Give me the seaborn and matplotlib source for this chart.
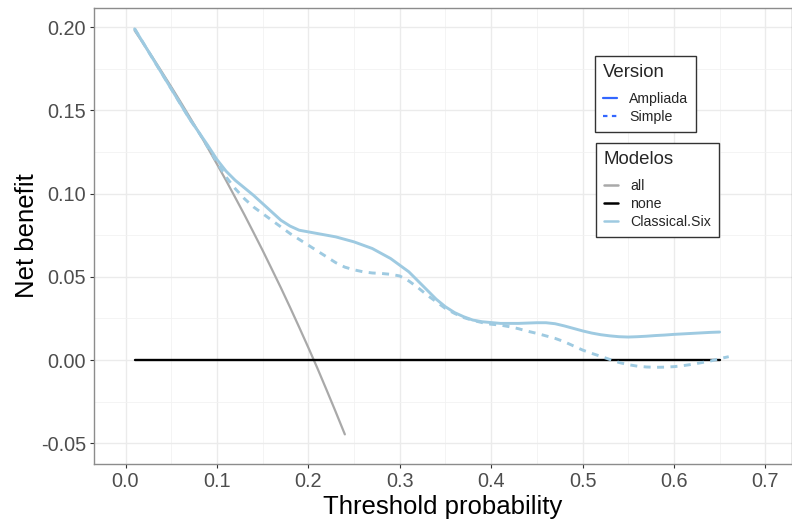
import pandas as pd
import matplotlib
matplotlib.use("Agg")
import matplotlib.pyplot as plt
from matplotlib.lines import Line2D
from matplotlib.ticker import MultipleLocator, FixedLocator
import seaborn as sns

# Decision curve data: net benefit by threshold probability
thr_all = [0.01, 0.02, 0.03, 0.04, 0.05, 0.06, 0.07, 0.08, 0.09, 0.10, 0.11, 0.12,
           0.13, 0.14, 0.15, 0.16, 0.17, 0.18, 0.19, 0.20, 0.21, 0.22, 0.23, 0.24]
nb_all = [0.198, 0.1898, 0.1815, 0.1729, 0.1642, 0.1553, 0.1462, 0.1370, 0.1275, 0.1178, 0.1079, 0.0977,
          0.0874, 0.0767, 0.0659, 0.0547, 0.0434, 0.0317, 0.0197, 0.0075, -0.0050, -0.0180, -0.0312, -0.0447]

thr_none = [0.01, 0.65]
nb_none = [0.0, 0.0]

thr_amp = [0.01, 0.02, 0.03, 0.04, 0.05, 0.06, 0.07, 0.08, 0.09, 0.10, 0.11, 0.12,
           0.13, 0.14, 0.15, 0.16, 0.17, 0.18, 0.19, 0.20, 0.21, 0.22, 0.23, 0.24,
           0.25, 0.26, 0.27, 0.28, 0.29, 0.30, 0.31, 0.32, 0.33, 0.34, 0.35, 0.36,
           0.37, 0.38, 0.39, 0.40, 0.41, 0.42, 0.43, 0.44, 0.45, 0.46, 0.47, 0.48,
           0.49, 0.50, 0.51, 0.52, 0.53, 0.54, 0.55, 0.56, 0.57, 0.58, 0.59, 0.60,
           0.61, 0.62, 0.63, 0.64, 0.65]
nb_amp = [0.199, 0.190, 0.181, 0.172, 0.163, 0.154, 0.145, 0.137, 0.129, 0.1205, 0.1135, 0.108,
          0.1035, 0.099, 0.094, 0.089, 0.084, 0.0805, 0.078, 0.077, 0.076, 0.075, 0.074, 0.0725,
          0.071, 0.069, 0.067, 0.064, 0.061, 0.057, 0.053, 0.0475, 0.042, 0.0365, 0.032, 0.0285,
          0.026, 0.024, 0.023, 0.0225, 0.022, 0.022, 0.022, 0.0222, 0.0224, 0.0224, 0.0218, 0.0205,
          0.019, 0.0175, 0.0162, 0.0152, 0.0145, 0.014, 0.0138, 0.014, 0.0143, 0.0147, 0.015, 0.0154,
          0.0157, 0.016, 0.0163, 0.0166, 0.0168]

thr_simple = [0.01, 0.02, 0.03, 0.04, 0.05, 0.06, 0.07, 0.08, 0.09, 0.10, 0.11, 0.12,
              0.13, 0.14, 0.15, 0.16, 0.17, 0.18, 0.19, 0.20, 0.21, 0.22, 0.23, 0.24,
              0.25, 0.26, 0.27, 0.28, 0.29, 0.30, 0.31, 0.32, 0.33, 0.34, 0.35, 0.36,
              0.37, 0.38, 0.39, 0.40, 0.41, 0.42, 0.43, 0.44, 0.45, 0.46, 0.47, 0.48,
              0.49, 0.50, 0.51, 0.52, 0.53, 0.54, 0.55, 0.56, 0.57, 0.58, 0.59, 0.60,
              0.61, 0.62, 0.63, 0.64, 0.65, 0.66]
nb_simple = [0.199, 0.190, 0.181, 0.172, 0.163, 0.154, 0.145, 0.137, 0.128, 0.119, 0.110, 0.103,
             0.097, 0.092, 0.088, 0.084, 0.080, 0.076, 0.0725, 0.069, 0.0655, 0.062, 0.0585, 0.0558,
             0.0542, 0.053, 0.0523, 0.052, 0.0515, 0.0505, 0.0475, 0.0435, 0.039, 0.035, 0.031, 0.028,
             0.0255, 0.0238, 0.0225, 0.0215, 0.021, 0.020, 0.0188, 0.0173, 0.016, 0.0145, 0.013, 0.011,
             0.0085, 0.006, 0.004, 0.0022, 0.0003, -0.0015, -0.0028, -0.0037, -0.0042, -0.0044, -0.0043, -0.004,
             -0.0034, -0.0026, -0.0016, -0.0006, 0.0008, 0.002]

x_ticks = [0.0, 0.1, 0.2, 0.3, 0.4, 0.5, 0.6, 0.7]
x_tick_labels = ["0.0", "0.1", "0.2", "0.3", "0.4", "0.5", "0.6", "0.7"]
y_ticks = [-0.05, 0.00, 0.05, 0.10, 0.15, 0.20]
y_tick_labels = ["-0.05", "0.00", "0.05", "0.10", "0.15", "0.20"]

model_colors = {"all": "#a9a9a9", "none": "#000000", "Classical.Six": "#9ecae1"}
version_color = "#3366ff"

reference = pd.concat([
    pd.DataFrame({"threshold": thr_all, "net_benefit": nb_all, "model": "all"}),
    pd.DataFrame({"threshold": thr_none, "net_benefit": nb_none, "model": "none"}),
])
classical = pd.concat([
    pd.DataFrame({"threshold": thr_amp, "net_benefit": nb_amp, "version": "Ampliada"}),
    pd.DataFrame({"threshold": thr_simple, "net_benefit": nb_simple, "version": "Simple"}),
])

sns.set_theme(style="white")
plt.rcParams["font.family"] = ["Liberation Sans", "DejaVu Sans"]

fig = plt.figure(figsize=(7.92, 5.23), dpi=100)
ax = fig.add_axes([93.7 / 792, 1 - 464 / 523, (792 - 93.7) / 792, (464 - 8) / 523])

sns.lineplot(data=reference[reference.model == "all"], x="threshold", y="net_benefit",
             color=model_colors["all"], linewidth=1.6, ax=ax, legend=False, zorder=3)
sns.lineplot(data=reference[reference.model == "none"], x="threshold", y="net_benefit",
             color=model_colors["none"], linewidth=1.7, ax=ax, legend=False, zorder=3)
sns.lineplot(data=classical, x="threshold", y="net_benefit", style="version",
             dashes={"Ampliada": "", "Simple": (2.4, 2.2)},
             color=model_colors["Classical.Six"], linewidth=2.1, ax=ax, legend=False,
             sort=False, zorder=4)

ax.set_xlim((93.7 - 125.5) / 914, (792 - 125.5) / 914)
ax.set_ylim((360 - 464) / 1664, (360 - 8) / 1664)

ax.xaxis.set_major_locator(FixedLocator(x_ticks))
ax.set_xticklabels(x_tick_labels)
ax.yaxis.set_major_locator(FixedLocator(y_ticks))
ax.set_yticklabels(y_tick_labels)
ax.xaxis.set_minor_locator(MultipleLocator(0.05))
ax.yaxis.set_minor_locator(MultipleLocator(0.025))

ax.grid(which="major", color="#ebebeb", linewidth=1.0)
ax.grid(which="minor", color="#f2f2f2", linewidth=0.6)
ax.set_axisbelow(True)
ax.tick_params(which="major", length=3, width=0.8, color="#333333",
               labelcolor="#4d4d4d", labelsize=14.3, pad=2.5, bottom=True, left=True)
ax.tick_params(which="minor", length=0)
for s in ax.spines.values():
    s.set_visible(True)
    s.set_color("#8c8c8c")
    s.set_linewidth(1.0)

ax.set_xlabel("Threshold probability", fontsize=18.5, color="black", labelpad=3)
ax.set_ylabel("Net benefit", fontsize=18.5, color="black", labelpad=1.5)

# Legends: line type for version, colour for model
legend_kw = dict(loc="upper left", fontsize=10.2, title_fontsize=13.4, frameon=True,
                 fancybox=False, edgecolor="#333333", framealpha=1, handlelength=1.0,
                 handletextpad=0.85, labelspacing=0.28, borderpad=0.55, borderaxespad=0,
                 alignment="left")

version_handles = [
    Line2D([], [], color=version_color, lw=1.6, linestyle="-"),
    Line2D([], [], color=version_color, lw=1.6, dashes=(2.0, 2.0)),
]
leg1 = fig.legend(version_handles, ["Ampliada", "Simple"], title="Version",
                  bbox_to_anchor=(595 / 792, 1 - 56 / 523), **legend_kw)
leg1.get_frame().set_linewidth(1.0)
leg1._legend_box.sep = 8

model_handles = [
    Line2D([], [], color=model_colors["all"], lw=1.8),
    Line2D([], [], color=model_colors["none"], lw=1.8),
    Line2D([], [], color=model_colors["Classical.Six"], lw=1.8),
]
leg2 = fig.legend(model_handles, ["all", "none", "Classical.Six"], title="Modelos",
                  bbox_to_anchor=(596 / 792, 1 - 143 / 523), **legend_kw)
leg2.get_frame().set_linewidth(1.0)
leg2._legend_box.sep = 8

fig.savefig("out.png", dpi=100)
